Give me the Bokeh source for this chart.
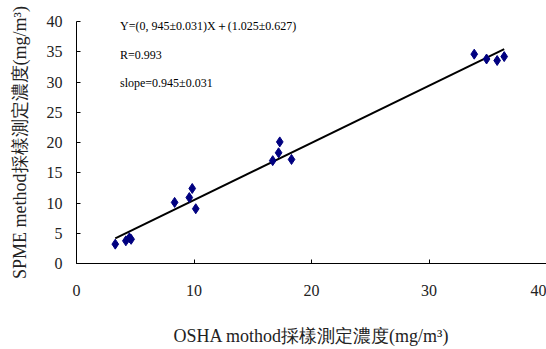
from bokeh.plotting import figure
from bokeh.models import Label, Range1d, FixedTicker
from bokeh.embed import file_html
from bokeh.resources import INLINE

# Data
osha = [3.3, 4.2, 4.5, 4.65, 8.35, 9.6, 9.85, 10.15, 16.7, 17.2, 17.3, 18.3, 33.85, 34.9, 35.8, 36.4]
spme = [3.2, 3.75, 4.25, 4.0, 10.1, 10.9, 12.4, 9.05, 17.0, 18.3, 20.1, 17.2, 34.6, 33.8, 33.55, 34.2]
slope = 0.945
intercept = 1.025
x_ticks = [0, 10, 20, 30, 40]
y_ticks = [0, 5, 10, 15, 20, 25, 30, 35, 40]
annotations = ["Y=(0, 945\u00b10.031)X\uff0b(1.025\u00b10.627)", "R=0.993", "slope=0.945\u00b10.031"]
x_label = "OSHA mothod採樣測定濃度(mg/m\u00b3)"
y_label = "SPME method採樣測定濃度(mg/m\u00b3)"

SERIF = "'Liberation Serif', 'Times New Roman', serif"

p = figure(width=546, height=349, output_backend="svg", toolbar_location=None,
           x_range=Range1d(0, 40), y_range=Range1d(0, 40),
           min_border_left=76, min_border_right=0, min_border_top=21, min_border_bottom=86)
p.outline_line_color = None
p.grid.visible = False
p.background_fill_color = "white"
p.border_fill_color = "white"

for ax in (p.xaxis[0], p.yaxis[0]):
    ax.axis_line_color = "black"
    ax.axis_line_width = 1
    ax.major_tick_in = 4
    ax.major_tick_out = 0
    ax.minor_tick_line_color = None
    ax.major_tick_line_color = "black"
    ax.major_label_text_font = SERIF
    ax.major_label_text_font_size = "16px"
    ax.major_label_text_color = "#222222"
    ax.axis_label_text_font = SERIF
    ax.axis_label_text_font_size = "18px"
    ax.axis_label_text_font_style = "normal"
    ax.axis_label_text_color = "#222222"

p.xaxis.ticker = FixedTicker(ticks=x_ticks)
p.yaxis.ticker = FixedTicker(ticks=y_ticks)
p.xaxis.major_label_standoff = 21
p.xaxis.axis_label_standoff = 27
p.yaxis.major_label_standoff = 14
p.yaxis.axis_label_standoff = 14
p.xaxis.axis_label = x_label
p.yaxis.axis_label = y_label

# regression line
xl = [min(osha), max(osha)]
yl = [slope * v + intercept for v in xl]
p.line(xl, yl, line_color="black", line_width=2)

# data points
p.scatter(osha, spme, marker="diamond", size=10, fill_color="#000080", line_color="#000080")

ann_y = [39.3, 34.5, 29.85]
for t, yy in zip(annotations, ann_y):
    p.add_layout(Label(x=3.7, y=yy, text=t, text_font=SERIF, text_font_size="12px",
                       text_baseline="middle", text_align="left", text_color="black"))

open("out.html", "w").write(file_html(p, INLINE))
